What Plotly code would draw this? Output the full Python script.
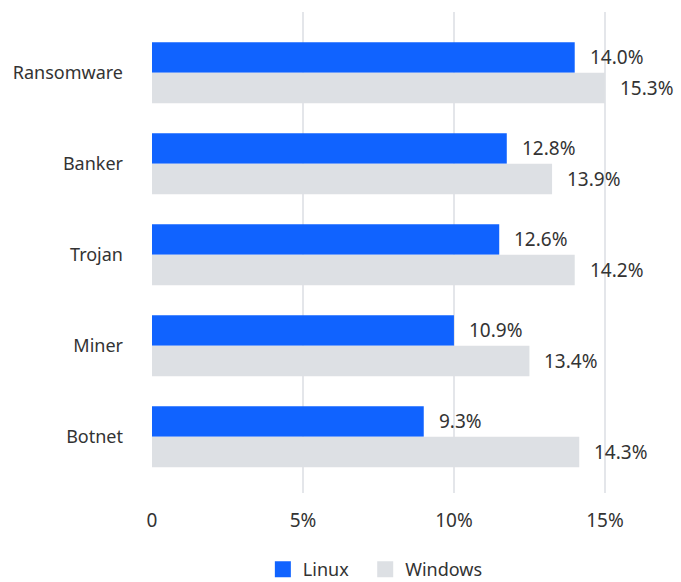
import plotly.graph_objects as go

categories = ["Ransomware", "Banker", "Trojan", "Miner", "Botnet"]
linux_values = [14.0, 11.75, 11.5, 10.0, 9.0]
windows_values = [15.0, 13.25, 14.0, 12.5, 14.15]
linux_labels = ["14.0%", "12.8%", "12.6%", "10.9%", "9.3%"]
windows_labels = ["15.3%", "13.9%", "14.2%", "13.4%", "14.3%"]
series_names = ["Linux", "Windows"]
x_ticks = [0, 5, 10, 15]
x_tick_labels = ["0", "5%", "10%", "15%"]

FONT = "Noto Sans"
TXT = "#333333"
BLUE = "#1063FF"
GREY = "#DDE0E4"

fig = go.Figure()
fig.add_trace(go.Bar(name=series_names[0], y=categories, x=linux_values, orientation="h",
                     marker=dict(color=BLUE, line=dict(width=0)), offsetgroup="a",
                     showlegend=False))
fig.add_trace(go.Bar(name=series_names[1], y=categories, x=windows_values, orientation="h",
                     marker=dict(color=GREY, line=dict(width=0)), offsetgroup="b",
                     showlegend=False))
# legend entries with larger square swatches, each in its own legend box
for name, col, lg in zip(series_names, [BLUE, GREY], ["legend", "legend2"]):
    fig.add_trace(go.Scatter(name=name, x=[None], y=[None], mode="markers",
                             marker=dict(symbol="square", size=16, color=col,
                                         line=dict(width=0)),
                             showlegend=True, hoverinfo="skip", legend=lg))

annotations = []
bw = (1 - 0.33) / 2
for i, c in enumerate(categories):
    annotations.append(dict(x=linux_values[i], y=i - bw / 2, xref="x", yref="y",
                            text=linux_labels[i], showarrow=False, xanchor="left",
                            yanchor="middle", xshift=13,
                            font=dict(family=FONT, size=19, color=TXT)))
    annotations.append(dict(x=windows_values[i], y=i + bw / 2, xref="x", yref="y",
                            text=windows_labels[i], showarrow=False, xanchor="left",
                            yanchor="middle", xshift=13,
                            font=dict(family=FONT, size=19, color=TXT)))

PW = 529.7
PH = 481
legend_common = dict(orientation="h", xanchor="left", yanchor="middle",
                     y=-(569.5 - 493) / PH, bgcolor="rgba(0,0,0,0)",
                     font=dict(family=FONT, size=18, color=TXT), itemwidth=30)

fig.update_layout(
    width=681, height=582,
    margin=dict(l=152, r=0, t=12, b=89, autoexpand=False),
    paper_bgcolor="white", plot_bgcolor="white",
    barmode="group", bargap=0.33, bargroupgap=0,
    font=dict(family=FONT, size=18, color=TXT),
    showlegend=True,
    legend=dict(x=(263 - 152) / PW, **legend_common),
    legend2=dict(x=(365.5 - 152) / PW, **legend_common),
    annotations=annotations,
)
fig.update_xaxes(range=[0, 17.52], tickvals=x_ticks, ticktext=x_tick_labels,
                 showgrid=True, gridcolor="#E4E6EA", gridwidth=1.5, zeroline=False,
                 showline=False, ticks="", ticklabelstandoff=14, automargin=False,
                 tickfont=dict(family=FONT, size=19, color=TXT), fixedrange=True)
fig.update_yaxes(type="category", categoryorder="array", categoryarray=categories,
                 range=[4.619, -0.667], showgrid=False, zeroline=False, showline=False,
                 ticks="", ticklabelstandoff=28, automargin=False,
                 tickfont=dict(family=FONT, size=18, color=TXT), fixedrange=True)

fig.write_html("out.html", config={"displayModeBar": False},
               post_script="document.body.style.margin='0';")
